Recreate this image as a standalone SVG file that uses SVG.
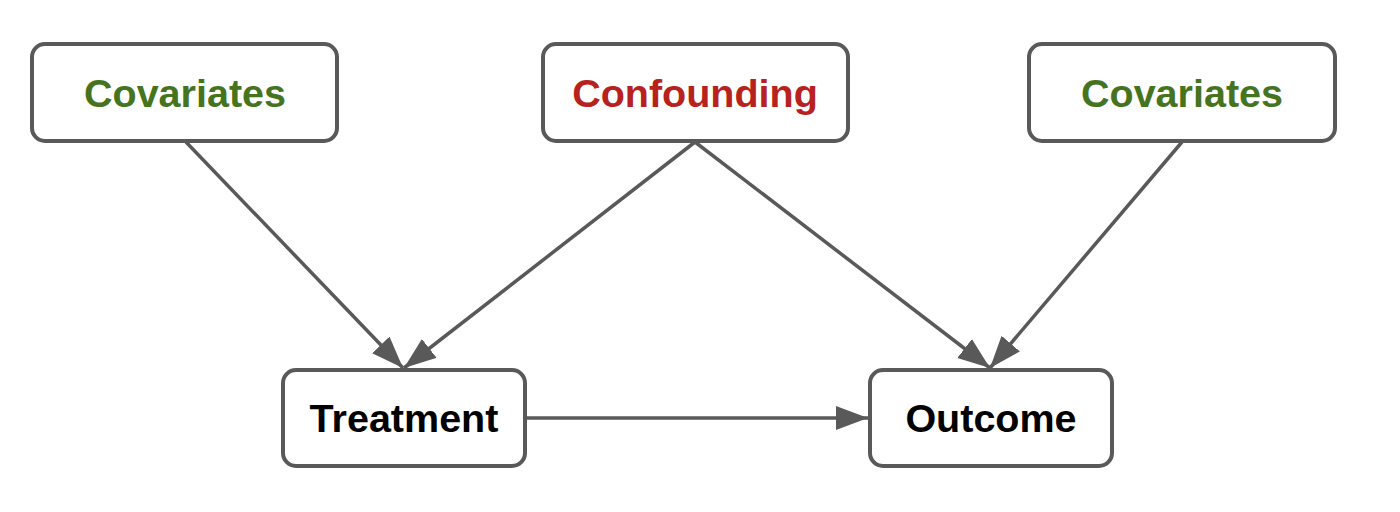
<svg xmlns="http://www.w3.org/2000/svg" width="1400" height="512" viewBox="0 0 1400 512">
<style>
.box{fill:#fff;stroke:#595959;stroke-width:4}
.lbl{font-family:"Liberation Sans",Arial,sans-serif;font-weight:bold;font-size:39.5px;text-anchor:middle}
.green{fill:#45731e}
.red{fill:#b7221e}
.black{fill:#000}
.edge{stroke:#595959;stroke-width:3.5;fill:none;marker-end:url(#ah)}
</style>
<defs>
<marker id="ah" markerUnits="userSpaceOnUse" markerWidth="34" markerHeight="26" refX="32" refY="12" orient="auto">
<path d="M0,0 L32,12 L0,24 z" fill="#595959"/>
</marker>
</defs>
<rect width="1400" height="512" fill="#fff"/>
<g id="connectors">
<line class="edge" x1="186" y1="142" x2="403" y2="368"/>
<line class="edge" x1="695" y1="142" x2="404" y2="368"/>
<line class="edge" x1="695" y1="142" x2="990" y2="368"/>
<line class="edge" x1="1182" y1="142" x2="990" y2="368"/>
<line class="edge" x1="525" y1="418" x2="868" y2="418"/>
</g>
<g id="covariates-left">
<rect class="box" x="32" y="44" width="305" height="97" rx="13"/>
<text class="lbl green" x="185" y="107">Covariates</text>
</g>
<g id="confounding">
<rect class="box" x="543" y="44" width="305" height="97" rx="13"/>
<text class="lbl red" x="695" y="107">Confounding</text>
</g>
<g id="covariates-right">
<rect class="box" x="1029" y="44" width="306" height="97" rx="13"/>
<text class="lbl green" x="1182" y="107">Covariates</text>
</g>
<g id="treatment">
<rect class="box" x="283" y="370" width="242" height="96" rx="13"/>
<text class="lbl black" x="404" y="432">Treatment</text>
</g>
<g id="outcome">
<rect class="box" x="870" y="370" width="242" height="96" rx="13"/>
<text class="lbl black" x="991" y="432">Outcome</text>
</g>
</svg>
